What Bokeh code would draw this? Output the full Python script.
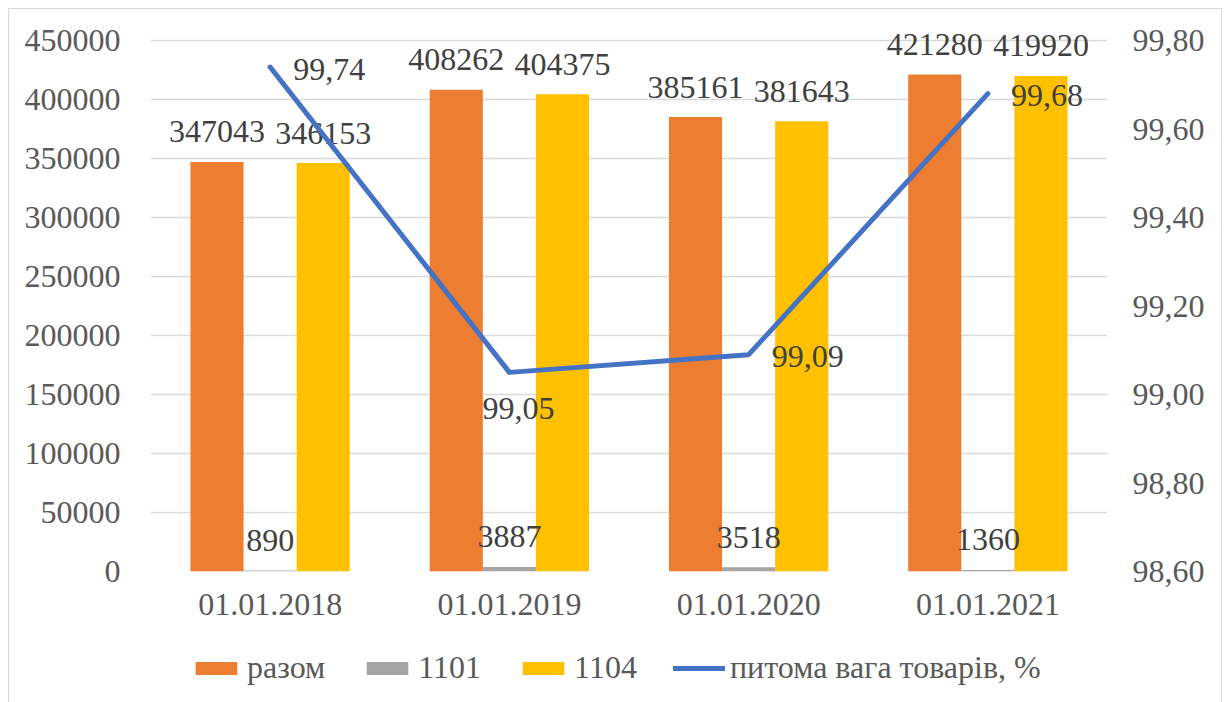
from bokeh.plotting import figure
from bokeh.layouts import column
from bokeh.models import (ColumnDataSource, FactorRange, Range1d, LinearAxis, FixedTicker,
                          SingleIntervalTicker, CustomJSTickFormatter, Legend, LegendItem)
from bokeh.transform import dodge
from bokeh.core.properties import value
from bokeh.embed import file_html
from bokeh.resources import INLINE

categories = ["01.01.2018", "01.01.2019", "01.01.2020", "01.01.2021"]
razom = [347043, 408262, 385161, 421280]
s1101 = [890, 3887, 3518, 1360]
s1104 = [346153, 404375, 381643, 419920]
share = [99.74, 99.05, 99.09, 99.68]
share_labels = ["99,74", "99,05", "99,09", "99,68"]
series_names = ["разом", "1101", "1104", "питома вага товарів, %"]
left_max = 450000
pct_min, pct_max = 98.6, 99.8
pct_ticks = [98.6, 98.8, 99.0, 99.2, 99.4, 99.6, 99.8]

FONT = value("Liberation Serif")
FS = "32px"
GRID = "#D9D9D9"
C_RAZOM, C_1101, C_1104, C_LINE = "#ED7D31", "#A5A5A5", "#FFC000", "#4472C4"

# frame is extended above the top gridline so that labels above it are not clipped
AXIS_H = 531
FRAME_H = 559
scale = FRAME_H / AXIS_H

src = ColumnDataSource(dict(cat=categories, razom=razom, s1101=s1101, s1104=s1104,
                            share=share, share_lbl=share_labels,
                            razom_lbl=[str(v) for v in razom],
                            s1101_lbl=[str(v) for v in s1101],
                            s1104_lbl=[str(v) for v in s1104]))

p = figure(x_range=FactorRange(*categories, range_padding=0),
           y_range=Range1d(0, left_max * scale),
           width=1212, height=631, output_backend="svg", toolbar_location=None,
           min_border_left=141, min_border_right=114, min_border_top=3, min_border_bottom=69)
p.extra_y_ranges = {"pct": Range1d(pct_min, pct_min + (pct_max - pct_min) * scale)}
p.outline_line_color = None
p.background_fill_color = "white"
p.border_fill_color = "white"

bw = 0.222
p.vbar(x=dodge("cat", -bw, range=p.x_range), top="razom", width=bw, source=src,
       fill_color=C_RAZOM, line_color=None)
p.vbar(x=dodge("cat", 0, range=p.x_range), top="s1101", width=bw, source=src,
       fill_color=C_1101, line_color=None)
p.vbar(x=dodge("cat", bw, range=p.x_range), top="s1104", width=bw, source=src,
       fill_color=C_1104, line_color=None)

for off, col, lbl in [(-bw, "razom", "razom_lbl"), (0, "s1101", "s1101_lbl"), (bw, "s1104", "s1104_lbl")]:
    p.text(x=dodge("cat", off, range=p.x_range), y=col, text=lbl, source=src,
           text_font=FONT, text_font_size=FS, text_color="#404040",
           text_align="center", text_baseline="alphabetic", y_offset=-30)

p.line(x="cat", y="share", source=src, y_range_name="pct", line_color=C_LINE,
       line_width=5, line_join="round", line_cap="round")

# line labels: right of point except the second (below)
right_idx = [0, 2, 3]
below_idx = [1]
src_r = ColumnDataSource(dict(cat=[categories[i] for i in right_idx],
                              share=[share[i] for i in right_idx],
                              lbl=[share_labels[i] for i in right_idx]))
src_b = ColumnDataSource(dict(cat=[categories[i] for i in below_idx],
                              share=[share[i] for i in below_idx],
                              lbl=[share_labels[i] for i in below_idx]))
p.text(x="cat", y="share", text="lbl", source=src_r, y_range_name="pct",
       text_font=FONT, text_font_size=FS, text_color="#404040",
       text_align="left", text_baseline="middle", x_offset=23, y_offset=2)
p.text(x="cat", y="share", text="lbl", source=src_b, y_range_name="pct",
       text_font=FONT, text_font_size=FS, text_color="#404040",
       text_align="center", text_baseline="top", x_offset=9, y_offset=26)

# axes
p.yaxis.ticker = SingleIntervalTicker(interval=50000)
p.yaxis.formatter = CustomJSTickFormatter(code="return tick.toFixed(0);")
for ax in [p.yaxis[0], p.xaxis[0]]:
    ax.axis_line_color = None
    ax.major_tick_line_color = None
    ax.minor_tick_line_color = None
    ax.major_label_text_font = "Liberation Serif"
    ax.major_label_text_font_size = FS
    ax.major_label_text_color = "#595959"
p.yaxis.major_label_standoff = 24
p.xaxis.major_label_standoff = 16

ax2 = LinearAxis(y_range_name="pct", ticker=FixedTicker(ticks=pct_ticks),
                 formatter=CustomJSTickFormatter(code="return tick.toFixed(2).replace('.', ',');"))
ax2.axis_line_color = None
ax2.major_tick_line_color = None
ax2.minor_tick_line_color = None
ax2.major_label_text_font = "Liberation Serif"
ax2.major_label_text_font_size = FS
ax2.major_label_text_color = "#595959"
ax2.major_label_standoff = 19
p.add_layout(ax2, "right")

p.xgrid.grid_line_color = None
p.ygrid.grid_line_color = GRID
p.ygrid.grid_line_width = 1.5

# legend strip (separate figure below the chart); its proxy glyphs lie outside its visible range
pl = figure(width=1212, height=62, output_backend="svg", toolbar_location=None,
            x_axis_type=None, y_axis_type=None, min_border=0,
            x_range=Range1d(0, 1), y_range=Range1d(0, 1))
pl.outline_line_color = None
pl.grid.grid_line_color = None
l1 = pl.vbar(x=[-10], top=[-10], width=0.1, fill_color=C_RAZOM, line_color=None)
l2 = pl.vbar(x=[-10], top=[-10], width=0.1, fill_color=C_1101, line_color=None)
l3 = pl.vbar(x=[-10], top=[-10], width=0.1, fill_color=C_1104, line_color=None)
l4 = pl.line(x=[-10, -9], y=[-10, -10], line_color=C_LINE, line_width=5, line_cap="round")

legend = Legend(items=[LegendItem(label=n, renderers=[r]) for n, r in zip(series_names, [l1, l2, l3, l4])],
                orientation="horizontal", location=(40, 16))
legend.label_text_font = "Liberation Serif"
legend.label_text_font_size = FS
legend.label_text_color = "#595959"
legend.glyph_width = 52
legend.glyph_height = 16
legend.label_standoff = 5
legend.spacing = 36
legend.border_line_color = None
legend.background_fill_alpha = 0
legend.padding = 0
legend.margin = 0
pl.add_layout(legend, "center")

layout = column(p, pl, spacing=0)
layout.styles = {"border": "1px solid #D9D9D9", "margin-left": "8px", "margin-top": "8px"}

open("out.html", "w").write(file_html(layout, INLINE))
